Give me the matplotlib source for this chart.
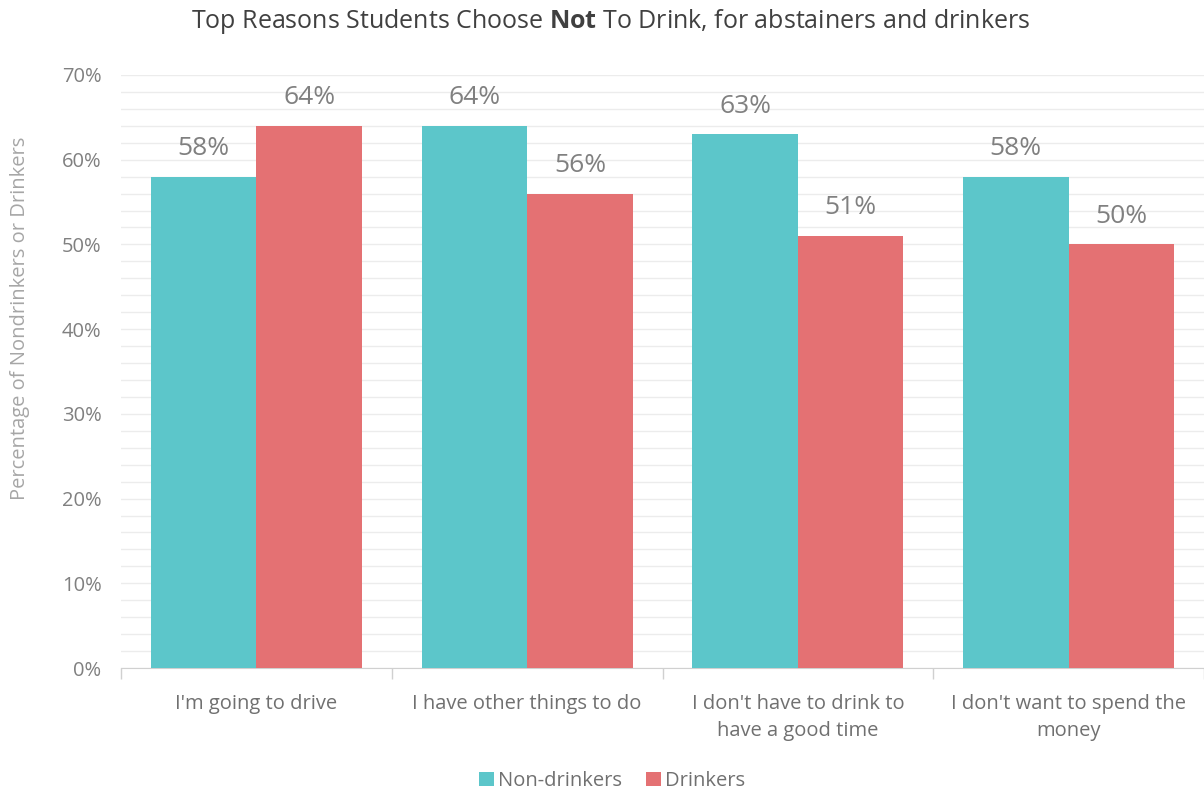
import matplotlib.pyplot as plt
import numpy as np
from matplotlib.ticker import MultipleLocator, FuncFormatter

# Datos
reasons = ["I'm going to drive", "I have other things to do",
           "I don't have to drink to\nhave a good time",
           "I don't want to spend the\nmoney"]
non_drinkers = [58, 64, 63, 58]
drinkers = [64, 56, 51, 50]
series_names = ["Non-drinkers", "Drinkers"]

TEAL = "#5cc6ca"
RED = "#e47173"
GRID = "#ececec"
TXT = "#808080"

plt.rcParams['font.family'] = ['Open Sans', 'DejaVu Sans']
plt.rcParams['mathtext.fontset'] = 'custom'
plt.rcParams['mathtext.rm'] = 'Open Sans'
plt.rcParams['mathtext.bf'] = 'Open Sans:bold'

fig = plt.figure(figsize=(12.04, 7.96), dpi=100)
ax = fig.add_axes([121 / 1204, 128 / 796, 1 - 121 / 1204, (668 - 75) / 796])

x = np.arange(len(reasons))
w = 0.39
b1 = ax.bar(x - w / 2, non_drinkers, w, color=TEAL, label=series_names[0], zorder=3)
b2 = ax.bar(x + w / 2, drinkers, w, color=RED, label=series_names[1], zorder=3)

for bars, vals in ((b1, non_drinkers), (b2, drinkers)):
    for r, v in zip(bars, vals):
        ax.annotate(f"{v}%", (r.get_x() + r.get_width() / 2, v),
                    xytext=(0, 28), textcoords="offset pixels",
                    ha="center", va="center", fontsize=19, color=TXT)

ax.set_ylim(0, 70)
ax.set_xlim(-0.5, 3.49)
ax.yaxis.set_major_locator(MultipleLocator(10))
ax.yaxis.set_minor_locator(MultipleLocator(2))
ax.yaxis.set_major_formatter(FuncFormatter(lambda v, p: f"{v:.0f}%"))
ax.grid(axis="y", which="both", color=GRID, linewidth=1, zorder=0)
ax.tick_params(axis="y", which="both", length=0, labelsize=14.5, labelcolor=TXT, pad=14)

ax.set_xticks(x)
ax.set_xticklabels(reasons, linespacing=1.45)
ax.set_xticks(np.arange(-0.5, 4, 1), minor=True)
ax.tick_params(axis="x", which="major", length=0, labelsize=14.5, labelcolor="#707070", pad=19)
ax.tick_params(axis="x", which="minor", length=8, color="#d0d0d0", width=1)
for s in ["top", "right", "left"]:
    ax.spines[s].set_visible(False)
ax.spines["bottom"].set_color("#d0d0d0")

fig.text(20 / 1204, 1 - 318 / 796, "Percentage of Nondrinkers or Drinkers", rotation=90,
         ha="center", va="center", fontsize=14.5, color="#a6a6a6")

fig.text(611 / 1204, 1 - 22 / 796,
         r"Top Reasons Students Choose $\mathbf{Not}$ To Drink, for abstainers and drinkers",
         ha="center", va="center", fontsize=18, color="#404040")

fig.legend(loc="center", bbox_to_anchor=(612 / 1204, 1 - 781 / 796), ncol=2, frameon=False,
           fontsize=14.5, labelcolor="#707070", handlelength=0.75, handleheight=0.75,
           handletextpad=0.2, columnspacing=1.2)

fig.savefig("out.png", dpi=100)
